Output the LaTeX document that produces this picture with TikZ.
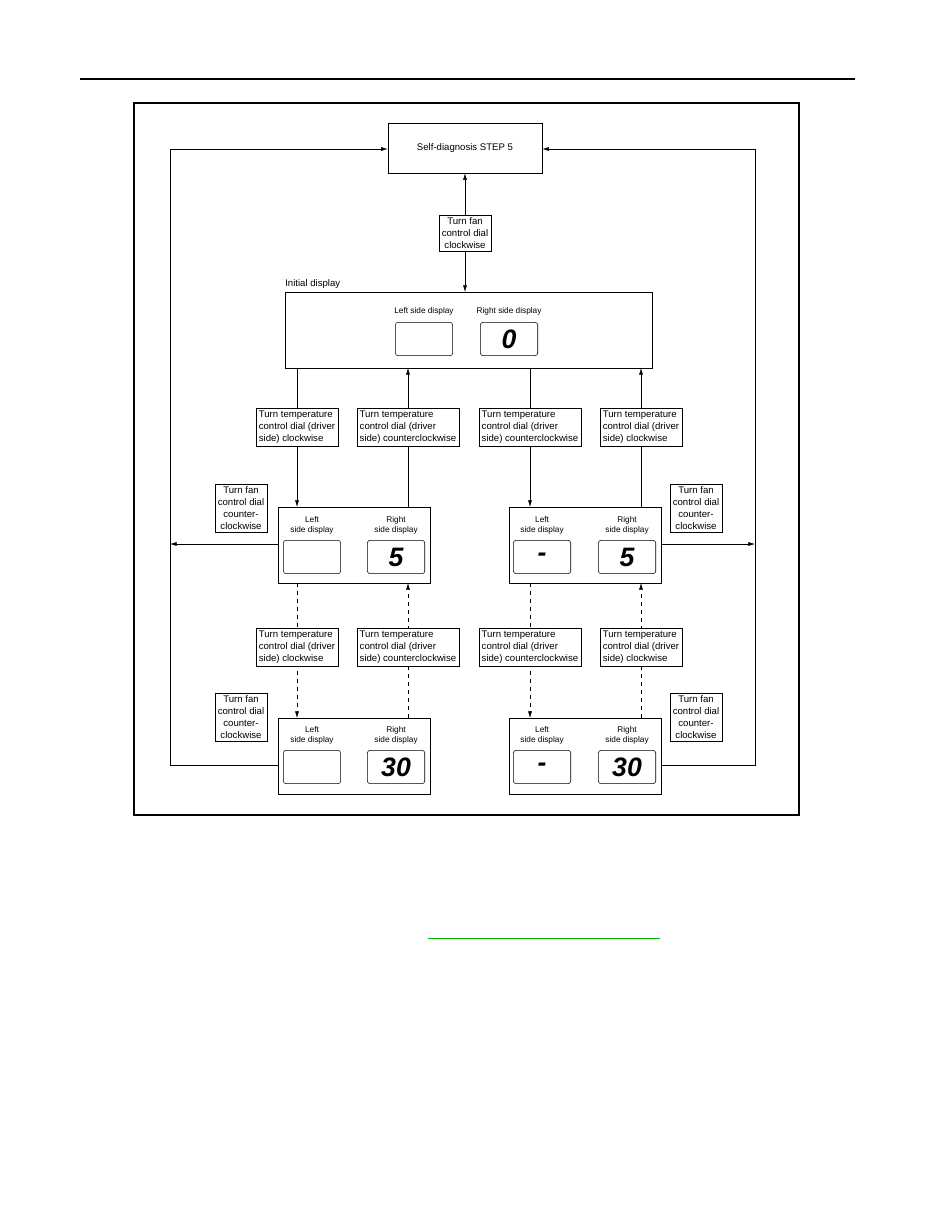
\documentclass[tikz,border=0pt]{standalone}
\usepackage{fontspec}
\setmainfont{Liberation Sans}
\usetikzlibrary{positioning}
\usetikzlibrary{arrows.meta}

\tikzset{
  lbl/.style={draw, fill=white, align=left, inner sep=2pt, font=\fontsize{7.2}{9}\selectfont},
  fanbox/.style={draw, fill=white, align=center, inner sep=2pt, font=\fontsize{7.2}{9}\selectfont},
  disp/.style={draw, rounded corners=2pt, minimum width=43pt, minimum height=25pt, inner sep=1pt, font=\fontsize{20}{20}\selectfont\itshape\bfseries},
  dispcap/.style={font=\fontsize{6.2}{7.5}\selectfont, align=center, inner sep=0pt},
  arr/.style={-{Latex[length=5pt,width=3pt]}},
}

\begin{document}
\begin{tikzpicture}[x=0.75pt,y=-0.75pt]
      \useasboundingbox (0,0) rectangle (935,1210);
      \draw[line width=1.2pt] (80,79) -- (855,79);
      \draw[line width=0.8pt] (134,103) rectangle (799,815);
      \draw[green!70!black, line width=0.6pt] (428,938) -- (660,938);

      % top part
      \node[draw, minimum width=115.5pt, minimum height=37.5pt, font=\fontsize{7.2}{9}\selectfont] (step) at (465,148) {Self-diagnosis STEP 5};
      \node[fanbox] (fan) at (465,233) {Turn fan\\control dial\\clockwise};
      \draw[arr] (fan) -- (step);
      \draw[arr] (fan.south) -- (465,292);

      % initial display
      \draw (285,292) rectangle (652,368);
      \node[anchor=south west, inner sep=0pt, font=\fontsize{7.2}{9}\selectfont] (init) at (285,289) {Initial display};
      \node[disp] (il) at (424,339) {};
      \node[disp, anchor=east] (ir) at (538,339) {0};
      \node[dispcap, above=5pt of il] {Left side display};
      \node[dispcap, above=5pt of ir] {Right side display};

      % middle display boxes
      \draw (278,507) rectangle (430,583);
      \draw (509,507) rectangle (661,583);
      \node[disp] (ml) at (312,557) {};
      \node[disp, anchor=east] (mr) at (425,557) {5};
      \node[disp, anchor=east] (nl) at (571,557) {-};
      \node[disp, anchor=east] (nr) at (656,557) {5};

      % bottom display boxes
      \draw (278,718) rectangle (430,794);
      \draw (509,718) rectangle (661,794);
      \node[disp] (bl) at (312,767) {};
      \node[disp, anchor=east] (br) at (425,767) {30};
      \node[disp, anchor=east] (cl) at (571,767) {-};
      \node[disp, anchor=east] (cr) at (656,767) {30};
      \foreach \d in {ml,nl,bl,cl} \node[dispcap, above=4pt of \d] {Left\\side display};
      \foreach \d in {mr,nr,br,cr} \node[dispcap, above=4pt of \d] {Right\\side display};

      % solid connectors
      \draw[arr] (297,368) -- (297,507);
      \draw[arr] (408,507) -- (408,368);
      \draw[arr] (530,368) -- (530,507);
      \draw[arr] (641,507) -- (641,368);
      \node[lbl] (t1) at (297,427) {Turn temperature\\control dial (driver\\side) clockwise};
      \node[lbl] (t2) at (408,427) {Turn temperature\\control dial (driver\\side) counterclockwise};
      \node[lbl] (t3) at (530,427) {Turn temperature\\control dial (driver\\side) counterclockwise};
      \node[lbl] (t4) at (641,427) {Turn temperature\\control dial (driver\\side) clockwise};

      % dashed connectors
      \draw[arr, dashed] (297,583) -- (297,718);
      \draw[arr, dashed] (408,718) -- (408,583);
      \draw[arr, dashed] (530,583) -- (530,718);
      \draw[arr, dashed] (641,718) -- (641,583);
      \node[lbl] (u1) at (297,647) {Turn temperature\\control dial (driver\\side) clockwise};
      \node[lbl] (u2) at (408,647) {Turn temperature\\control dial (driver\\side) counterclockwise};
      \node[lbl] (u3) at (530,647) {Turn temperature\\control dial (driver\\side) counterclockwise};
      \node[lbl] (u4) at (641,647) {Turn temperature\\control dial (driver\\side) clockwise};

      % return lines
      \coordinate (lw) at (170,544);
      \coordinate (rw) at (755,544);
      \draw (278,765) -- (170,765) -- (170,149);
      \draw[arr] (170,149) -- (step.west |- 0,149);
      \draw[arr] (278,544) -- (lw);
      \draw (661,765) -- (755,765) -- (755,149);
      \draw[arr] (755,149) -- (step.east |- 0,149);
      \draw[arr] (661,544) -- (rw);
      \node[fanbox] (f1) at (241,508) {Turn fan\\control dial\\counter-\\clockwise};
      \node[fanbox] (f2) at (696,508) {Turn fan\\control dial\\counter-\\clockwise};
      \node[fanbox] (f3) at (241,717) {Turn fan\\control dial\\counter-\\clockwise};
      \node[fanbox] (f4) at (696,717) {Turn fan\\control dial\\counter-\\clockwise};
\end{tikzpicture}
\end{document}
